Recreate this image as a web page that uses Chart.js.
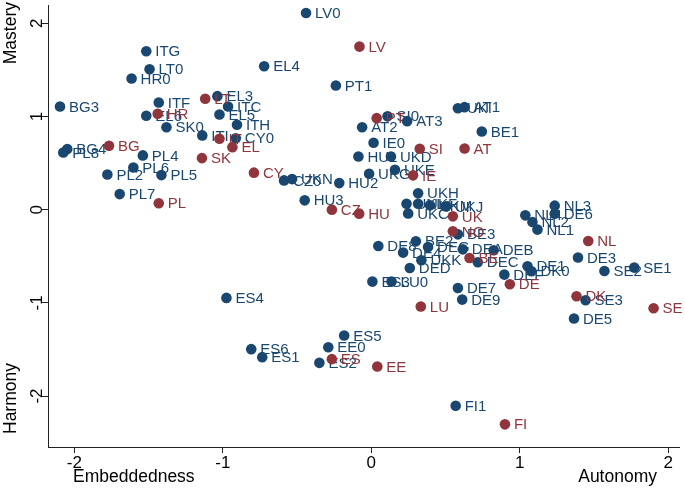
<!DOCTYPE html>
<html>
<head>
<meta charset="utf-8">
<script src="https://cdn.jsdelivr.net/npm/chart.js@4.4.1/dist/chart.umd.min.js"></script>
<style>
  html, body { margin: 0; padding: 0; background: #ffffff; }
  #wrap { width: 685px; height: 488px; position: relative; }
</style>
</head>
<body>
<div id="wrap"><canvas id="c" width="685" height="488"></canvas></div>
<script>
// ---- Data ----
const regionLabels = ["AT1","AT2","AT3","BE1","BE2","BE3","BG3","BG4","CY0","CZ0",
  "DE1","DE3","DE4","DE5","DE6","DE7","DE8","DE9","DEA","DEB","DEC","DED","DEF","DEG",
  "DK0","EE0","EL3","EL4","EL5","EL6","ES1","ES2","ES3","ES4","ES5","ES6","FI1","HR0",
  "HU1","HU2","HU3","IE0","ITC","ITF","ITG","ITH","ITI","LT0","LU0","LV0",
  "NL1","NL2","NL3","NL4","PL2","PL4","PL5","PL6","PL7","PL8","PT1","SE1","SE2","SE3",
  "SI0","SK0","UKC","UKD","UKE","UKF","UKG","UKH","UKI","UKJ","UKK","UKL","UKM","UKN"];
const regionX = [0.628,-0.062,0.241,0.744,0.300,0.583,-2.097,-2.048,-0.913,-0.588,
  1.052,1.392,0.214,1.365,1.235,0.583,0.047,0.612,0.616,0.824,0.717,0.259,0.896,0.382,
  1.079,-0.290,-1.037,-0.722,-1.023,-1.516,-0.735,-0.350,0.007,-0.976,-0.183,-0.809,0.568,-1.615,
  -0.087,-0.216,-0.449,0.015,-0.965,-1.432,-1.516,-0.905,-1.139,-1.494,0.136,-0.440,
  1.119,1.085,1.235,1.037,-1.778,-1.539,-1.414,-1.603,-1.695,-2.075,-0.239,1.771,1.570,1.443,
  0.109,-1.380,0.248,0.132,0.159,0.315,-0.015,0.315,0.583,0.503,0.337,0.237,0.395,-0.534];
const regionY = [1.100,0.885,0.950,0.839,-0.340,-0.265,1.107,0.650,0.767,0.314,
  -0.608,-0.514,-0.461,-1.168,-0.043,-0.840,-0.390,-0.965,-0.426,-0.436,-0.565,-0.626,-0.697,-0.401,
  -0.661,-1.476,1.218,1.539,1.021,1.008,-1.583,-1.644,-0.772,-0.947,-1.350,-1.497,-2.105,1.407,
  0.571,0.285,0.100,0.718,1.107,1.150,1.700,0.911,0.797,1.507,-0.772,2.111,
  -0.214,-0.133,0.043,-0.061,0.378,0.582,0.371,0.453,0.167,0.614,1.332,-0.622,-0.658,-0.972,
  1.003,0.885,-0.040,0.571,0.429,0.064,0.386,0.175,1.089,0.035,-0.543,0.064,0.046,0.328];

const countryLabels = ["AT","BE","BG","CY","CZ","DE","DK","EE","EL","ES","FI","HR","HU",
  "IE","IT","LT","LU","LV","NL","NO","PL","PT","SE","SI","SK","UK"];
const countryX = [0.628,0.661,-1.767,-0.791,-0.266,0.933,1.382,0.040,-0.936,-0.266,0.900,-1.439,-0.082,
  0.281,-1.023,-1.119,0.333,-0.080,1.461,0.549,-1.432,0.036,1.901,0.326,-1.141,0.549];
const countryY = [0.657,-0.519,0.686,0.397,0.000,-0.801,-0.929,-1.683,0.671,-1.604,-2.304,1.029,-0.043,
  0.368,0.761,1.190,-1.040,1.750,-0.337,-0.233,0.068,0.982,-1.058,0.654,0.553,-0.072];

const xTicks = [-2,-1,0,1,2];
const yTicks = [-2,-1,0,1,2];
const xTitleLeft = "Embeddedness", xTitleRight = "Autonomy";
const yTitleTop = "Mastery", yTitleBottom = "Harmony";

// ---- Styles ----
const BLUE = "#1a476f";
const RED = "#90353b";
const FONT = "'Liberation Sans', Arial, sans-serif";

function pts(xs, ys) { return xs.map((x, i) => ({x: x, y: ys[i]})); }

const labelPlugin = {
  id: 'pointLabels',
  afterDatasetDraw(chart, args) {
    const ds = chart.data.datasets[args.index];
    const meta = chart.getDatasetMeta(args.index);
    const ctx = chart.ctx;
    ctx.save();
    ctx.font = "15px " + FONT;
    ctx.fillStyle = ds.labelColor;
    ctx.textAlign = "left";
    ctx.textBaseline = "middle";
    meta.data.forEach((el, i) => {
      ctx.fillText(ds.pointNames[i], el.x + 9, el.y + 1);
    });
    ctx.restore();
  }
};

const axisTextPlugin = {
  id: 'axisTexts',
  afterDraw(chart) {
    const ctx = chart.ctx;
    const ys = chart.scales.y;
    const ca = chart.chartArea;
    ctx.save();
    ctx.fillStyle = "#000";
    ctx.font = "17px " + FONT;
    // rotated y tick labels, positioned through the y scale
    ys.ticks.forEach(t => {
      const py = ys.getPixelForValue(t.value);
      ctx.save();
      ctx.translate(ca.left - 11, py);
      ctx.rotate(-Math.PI / 2);
      ctx.textAlign = "center";
      ctx.textBaseline = "middle";
      ctx.fillText(String(t.value), 0, 0);
      ctx.restore();
    });
    // axis end titles
    ctx.font = "17.5px " + FONT;
    ctx.textBaseline = "middle";
    ctx.textAlign = "left";
    ctx.fillText(xTitleLeft, 73, 477);
    ctx.textAlign = "right";
    ctx.fillText(xTitleRight, 657, 477);
    ctx.save();
    ctx.translate(11, 0);
    ctx.rotate(-Math.PI / 2);
    ctx.textAlign = "right";
    ctx.fillText(yTitleTop, -2, 0);
    ctx.textAlign = "left";
    ctx.fillText(yTitleBottom, -434, 0);
    ctx.restore();
    ctx.restore();
  }
};

new Chart(document.getElementById('c'), {
  type: 'scatter',
  data: {
    datasets: [
      {
        label: 'Regions',
        data: pts(regionX, regionY),
        pointNames: regionLabels,
        labelColor: BLUE,
        backgroundColor: BLUE,
        borderColor: BLUE,
        pointRadius: 5.3,
        pointBorderWidth: 0,
        order: 1,
        clip: false
      },
      {
        label: 'Countries',
        data: pts(countryX, countryY),
        pointNames: countryLabels,
        labelColor: RED,
        backgroundColor: RED,
        borderColor: RED,
        pointRadius: 5.3,
        pointBorderWidth: 0,
        order: 0,
        clip: false
      }
    ]
  },
  options: {
    responsive: false,
    animation: false,
    events: [],
    layout: { padding: { left: 0, right: 2, top: 0, bottom: 0 } },
    plugins: { legend: { display: false }, tooltip: { enabled: false }, title: { display: false } },
    scales: {
      x: {
        type: 'linear',
        min: -2.178, max: 2.077,
        afterBuildTicks: s => { s.ticks = xTicks.map(v => ({value: v})); },
        afterFit: s => { s.height = 41; },
        grid: { drawOnChartArea: false, drawTicks: true, tickLength: 6, color: '#222' },
        border: { display: true, color: '#222', width: 1 },
        ticks: { color: '#000', font: { family: FONT, size: 17 }, padding: 0, maxRotation: 0 }
      },
      y: {
        type: 'linear',
        min: -2.547, max: 2.193,
        afterBuildTicks: s => { s.ticks = yTicks.map(v => ({value: v})); },
        afterFit: s => { s.width = 48; s.paddingTop = 0; s.paddingBottom = 0; },
        grid: { drawOnChartArea: false, drawTicks: true, tickLength: 6, color: '#222' },
        border: { display: true, color: '#222', width: 1 },
        ticks: { display: false }
      }
    }
  },
  plugins: [labelPlugin, axisTextPlugin]
});
</script>
</body>
</html>
